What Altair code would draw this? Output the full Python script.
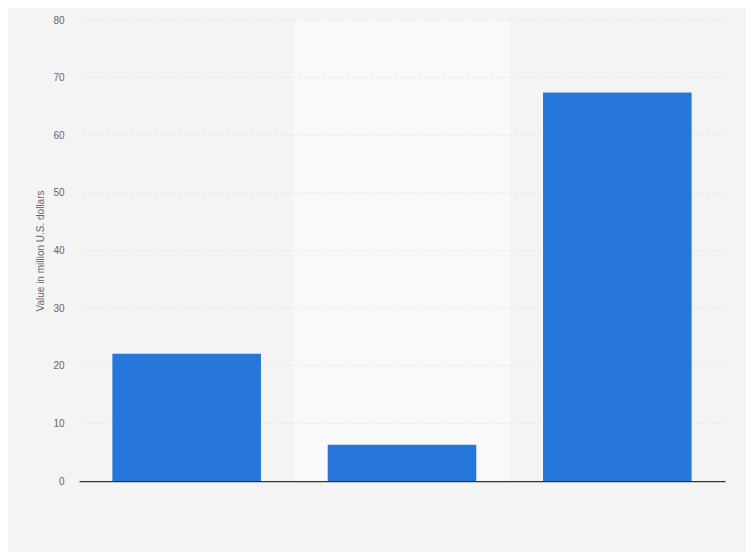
import altair as alt
import pandas as pd

categories = ["Category 1", "Category 2", "Category 3"]
values = [22.1, 6.3, 67.4]
band_shade = ["#f4f4f4", "#f9f9f9", "#f4f4f4"]
grid_values = [10, 20, 30, 40, 50, 60, 70, 80]

df = pd.DataFrame({"category": categories, "value": values, "shade": band_shade})
gdf = pd.DataFrame({"g": grid_values})

W, H = 646, 461
ytitle = "Value in million U.S. dollars"

yaxis = alt.Axis(values=[0, 10, 20, 30, 40, 50, 60, 70, 80],
                 tickSize=0, labelPadding=15, domain=False, grid=False,
                 labelColor="#666666", labelFontSize=10,
                 labelFont="Liberation Sans",
                 titleColor="#666666", titleFontSize=10,
                 titleFont="Liberation Sans", titleFontWeight="normal",
                 titlePadding=7)
yscale = alt.Scale(domain=[0, 80])

bands = alt.Chart(df).mark_rect().encode(
    x=alt.X("category:N", sort=categories, title=None,
            scale=alt.Scale(domain=categories, paddingInner=0, paddingOuter=0),
            axis=None),
    y=alt.value(0),
    y2=alt.value(H),
    color=alt.Color("shade:N", scale=None, legend=None),
)

grid = alt.Chart(gdf).mark_rule(color="#dcdcdc", strokeDash=[1, 2], strokeWidth=1).encode(
    y=alt.Y("g:Q", scale=yscale, title=ytitle, axis=yaxis),
    x=alt.value(0),
    x2=alt.value(W),
)

bars = alt.Chart(df).mark_bar(color="#2776d9").encode(
    x=alt.X("category:N", sort=categories, title=None,
            scale=alt.Scale(domain=categories, paddingInner=0.31, paddingOuter=0.155),
            axis=alt.Axis(labels=False, ticks=False, domain=True,
                          domainColor="#333333", domainWidth=1.5, grid=False)),
    y=alt.Y("value:Q", title=ytitle, scale=yscale, axis=yaxis),
)

chart = alt.layer(bands, grid, bars).resolve_scale(x="independent").properties(
    width=W, height=H,
    background="#f4f4f4",
    autosize=alt.AutoSizeParams(type="none"),
    padding={"left": 71, "top": 12, "right": 21, "bottom": 71},
).configure_view(stroke=None)

chart.save("out.html", embed_options={"renderer": "svg", "actions": False})
